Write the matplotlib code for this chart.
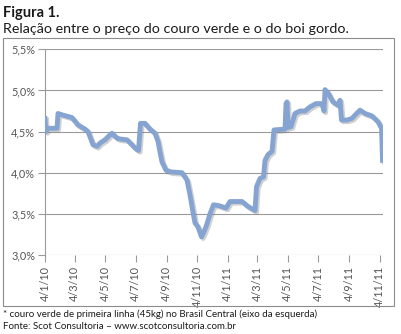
import numpy as np
import pandas as pd
import matplotlib
matplotlib.use("Agg")
import matplotlib.pyplot as plt
import matplotlib.dates as mdates
import matplotlib.patheffects as pe
from matplotlib.patches import Rectangle
from matplotlib.ticker import FuncFormatter

plt.rcParams['font.family'] = ['Lato', 'DejaVu Sans']

# couro verde / boi gordo (%)
datas = [
    "2010-01-04", "2010-01-06", "2010-01-10", "2010-01-28", "2010-01-30",
    "2010-02-09", "2010-02-27", "2010-03-11", "2010-03-25", "2010-03-31",
    "2010-04-10", "2010-04-18", "2010-04-24", "2010-05-04", "2010-05-14",
    "2010-05-18", "2010-05-28", "2010-06-03", "2010-06-17", "2010-06-27",
    "2010-07-03", "2010-07-10", "2010-07-14", "2010-07-23", "2010-08-02",
    "2010-08-12", "2010-08-18", "2010-08-22", "2010-08-26", "2010-09-03",
    "2010-09-13", "2010-10-05", "2010-10-15", "2010-10-21", "2010-10-27",
    "2010-10-31", "2010-11-06", "2010-11-13", "2010-11-17", "2010-11-23",
    "2010-11-30", "2010-12-07", "2010-12-18", "2011-01-01", "2011-01-09",
    "2011-02-02", "2011-02-14", "2011-02-28", "2011-03-03", "2011-03-10",
    "2011-03-17", "2011-03-20", "2011-03-26", "2011-04-03", "2011-04-07",
    "2011-04-29", "2011-05-01", "2011-05-03", "2011-05-05", "2011-05-11",
    "2011-05-19", "2011-05-29", "2011-06-08", "2011-06-18", "2011-06-30",
    "2011-07-12", "2011-07-16", "2011-07-18", "2011-07-24", "2011-08-03",
    "2011-08-13", "2011-08-17", "2011-08-20", "2011-08-31", "2011-09-10",
    "2011-09-16", "2011-09-26", "2011-10-06", "2011-10-20", "2011-11-01",
    "2011-11-08", "2011-11-10",
]
relacao = [
    4.66, 4.50, 4.54, 4.54, 4.72,
    4.70, 4.67, 4.58, 4.53, 4.50,
    4.34, 4.32, 4.36, 4.40, 4.46,
    4.48, 4.42, 4.41, 4.40, 4.34,
    4.30, 4.27, 4.60, 4.60, 4.53,
    4.48, 4.38, 4.25, 4.13, 4.03,
    4.01, 4.00, 3.91, 3.73, 3.52,
    3.39, 3.34, 3.22, 3.27, 3.36,
    3.50, 3.61, 3.60, 3.57, 3.65,
    3.65, 3.59, 3.54, 3.83, 3.93,
    3.95, 4.15, 4.22, 4.26, 4.52,
    4.53, 4.84, 4.86, 4.55, 4.56,
    4.72, 4.75, 4.75, 4.80, 4.84,
    4.84, 4.75, 5.01, 4.97, 4.86,
    4.82, 4.88, 4.64, 4.64, 4.66,
    4.70, 4.76, 4.72, 4.69, 4.62,
    4.54, 4.15,
]
ticks_x = ["2010-01-04", "2010-03-04", "2010-05-04", "2010-07-04",
           "2010-09-04", "2010-11-04", "2011-01-04", "2011-03-04",
           "2011-05-04", "2011-07-04", "2011-09-04", "2011-11-04"]
ticks_y = [3.0, 3.5, 4.0, 4.5, 5.0, 5.5]

x = pd.to_datetime(datas)
xt = pd.to_datetime(ticks_x)

fig = plt.figure(figsize=(4.01, 3.34), dpi=100)
fig.patch.set_facecolor('white')

# moldura do grafico
fig.patches.append(Rectangle((3 / 401, 1 - 306 / 334), 391 / 401, 268 / 334,
                             transform=fig.transFigure, fill=False,
                             edgecolor='#8c8c8c', linewidth=0.8))

ax = fig.add_axes([45 / 401, 1 - 255 / 334, 338 / 401, 205.7 / 334])
ax.plot(x, relacao, color='#86a4d2', linewidth=3.5, solid_joinstyle='round',
        path_effects=[pe.SimpleLineShadow(offset=(1.2, -1.2), shadow_color='#7a7a7a', alpha=0.35),
                      pe.Normal()], zorder=3)

ax.set_xlim(pd.Timestamp("2010-01-04"), pd.Timestamp("2011-11-11"))
ax.set_ylim(3.0, 5.5)
ax.set_yticks(ticks_y)
ax.yaxis.set_major_formatter(FuncFormatter(lambda v, p: f"{v:.1f}%".replace('.', ',')))
ax.set_xticks(xt)
ax.set_xticklabels([f"{d.day}/{d.month}/{d.year % 100}" for d in xt], rotation=90)

ax.grid(axis='y', color='#9a9a9a', linewidth=0.8)
ax.set_axisbelow(True)
for s in ['top', 'right', 'bottom']:
    ax.spines[s].set_visible(False)
ax.spines['left'].set_color('#9a9a9a')
ax.tick_params(axis='both', colors='#9a9a9a', labelcolor='#555555', labelsize=7.8,
               length=5, width=0.8)
ax.tick_params(axis='y', pad=2)
ax.tick_params(axis='x', pad=3)

fig.text(3 / 401, 1 - 17 / 334, "Figura 1.", fontsize=10.5, fontweight='bold', color='#1a1a1a')
fig.text(3 / 401, 1 - 33 / 334, "Relação entre o preço do couro verde e o do boi gordo.",
         fontsize=10.3, color='#1a1a1a')
fig.text(3 / 401, 1 - 317 / 334,
         "* couro verde de primeira linha (45kg) no Brasil Central (eixo da esquerda)",
         fontsize=7.05, color='#1a1a1a')
fig.text(3 / 401, 1 - 329 / 334, "Fonte: Scot Consultoria – www.scotconsultoria.com.br",
         fontsize=7.05, color='#1a1a1a')

fig.savefig("out.png", dpi=100)
